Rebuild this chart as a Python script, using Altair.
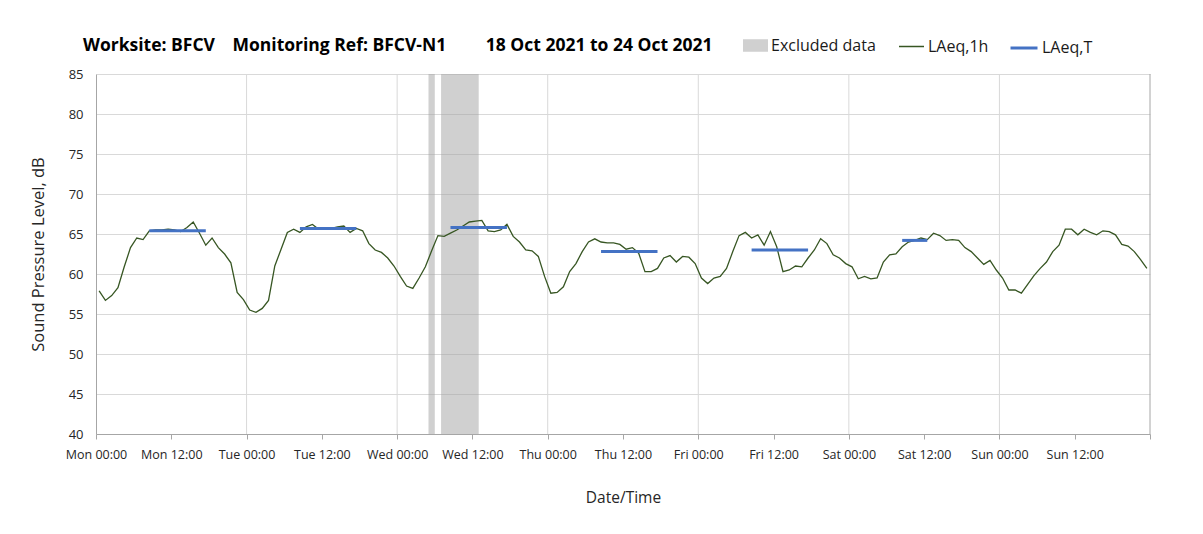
import altair as alt
import pandas as pd

# ---- data -------------------------------------------------------------
# hour position (hours since Mon 18 Oct 2021 00:00), one point per hour
hours = [i + 0.5 for i in range(168)]
laeq_1h = [
    57.9, 56.7, 57.3, 58.3, 60.9, 63.3, 64.5, 64.3, 65.4, 65.5, 65.5, 65.6,
    65.5, 65.3, 65.8, 66.5, 65.1, 63.6, 64.5, 63.3, 62.5, 61.4, 57.7, 56.8,
    55.5, 55.2, 55.7, 56.7, 61.0, 63.1, 65.2, 65.6, 65.2, 65.9, 66.2, 65.6,
    65.7, 65.7, 65.9, 66.0, 65.2, 65.7, 65.4, 63.8, 63.0, 62.7, 62.0, 61.0,
    59.7, 58.5, 58.2, 59.5, 60.9, 62.9, 64.8, 64.7, 65.1, 65.5, 66.0, 66.5,
    66.6, 66.7, 65.4, 65.3, 65.5, 66.2, 64.7, 64.0, 63.0, 62.9, 62.2, 59.7,
    57.6, 57.7, 58.4, 60.3, 61.3, 62.8, 64.0, 64.4, 64.0, 63.9, 63.9, 63.7,
    63.1, 63.3, 62.6, 60.3, 60.3, 60.7, 62.0, 62.3, 61.5, 62.2, 62.1, 61.3,
    59.5, 58.8, 59.5, 59.7, 60.7, 62.8, 64.8, 65.2, 64.5, 64.9, 63.6, 65.3,
    63.4, 60.3, 60.5, 61.0, 60.9, 62.0, 63.0, 64.4, 63.8, 62.4, 62.0, 61.3,
    60.9, 59.4, 59.7, 59.4, 59.5, 61.5, 62.4, 62.5, 63.4, 64.0, 64.2, 64.5,
    64.3, 65.1, 64.8, 64.2, 64.3, 64.2, 63.3, 62.8, 62.0, 61.2, 61.7, 60.5,
    59.5, 58.0, 58.0, 57.6, 58.7, 59.8, 60.7, 61.5, 62.8, 63.6, 65.6, 65.6,
    64.9, 65.6, 65.2, 64.9, 65.4, 65.3, 64.9, 63.7, 63.5, 62.8, 61.8, 60.7,
]

seg_day = ["Mon", "Tue", "Wed", "Thu", "Fri", "Sat"]
seg_start = [8.5, 32.5, 56.5, 80.5, 104.5, 128.5]
seg_end = [17.5, 41.5, 65.5, 89.5, 113.5, 132.5]
seg_level = [65.4, 65.7, 65.8, 62.8, 63.0, 64.2]

excl_start = [53, 55]
excl_end = [54, 61]

day_bounds = [24, 48, 72, 96, 120, 144]
end_bound = [168]

tick_values = [0, 12, 24, 36, 48, 60, 72, 84, 96, 108, 120, 132, 144, 156, 168]
tick_labels = ["Mon 00:00", "Mon 12:00", "Tue 00:00", "Tue 12:00", "Wed 00:00",
               "Wed 12:00", "Thu 00:00", "Thu 12:00", "Fri 00:00", "Fri 12:00",
               "Sat 00:00", "Sat 12:00", "Sun 00:00", "Sun 12:00", ""]
y_ticks = [40, 45, 50, 55, 60, 65, 70, 75, 80, 85]

title_text = ("Worksite: BFCV\u2003Monitoring Ref: BFCV-N1\u2003\u2003 "
              "18 Oct 2021 to 24 Oct 2021")

# ---- tables -------------------------------------------------------------
df_line = pd.DataFrame({"h": hours, "v": laeq_1h, "s": "LAeq,1h"})
df_seg = pd.DataFrame({"day": seg_day, "h": seg_start, "b": seg_end,
                       "v": seg_level, "s": "LAeq,T"})
df_ex = pd.DataFrame({"h": excl_start, "b": excl_end, "s": "Excluded data"})
df_grid = pd.DataFrame({"h": day_bounds})
df_end = pd.DataFrame({"h": end_bound})

FONT = "Open Sans"
xs = alt.Scale(domain=[0, 168], nice=False, zero=False)
ys = alt.Scale(domain=[40, 85], nice=False, zero=False)

label_expr = "[" + ",".join("'%s'" % t for t in tick_labels) + "][round(datum.value/12)]"

xaxis = alt.Axis(title="Date/Time", values=tick_values, labelExpr=label_expr,
                 grid=False, domainColor="#a6a6a6", tickColor="#a6a6a6",
                 tickSize=5, labelFont=FONT, labelFontSize=12.5,
                 labelColor="#262626", labelPadding=9, labelFlush=False,
                 titleFont=FONT, titleFontSize=15.5, titleFontWeight="normal",
                 titleColor="#262626", titlePadding=30)
yaxis = alt.Axis(title="Sound Pressure Level, dB", values=y_ticks, grid=True,
                 gridColor="#d9d9d9", domainColor="#a6a6a6", ticks=False,
                 labelFont=FONT, labelFontSize=13, labelColor="#262626",
                 labelPadding=13, titleFont=FONT, titleFontSize=16.5,
                 titleFontWeight="normal", titleColor="#262626",
                 titlePadding=22)

X = alt.X("h:Q", scale=xs, axis=xaxis, title="Date/Time")
Y = alt.Y("v:Q", scale=ys, axis=yaxis, title="Sound Pressure Level, dB")


def leg(x, sym, size, sw):
    return alt.Legend(title=None, orient="none", legendX=x, legendY=-41,
                      symbolType=sym, symbolSize=size, symbolStrokeWidth=sw,
                      labelFontSize=16, labelFont=FONT, labelColor="#1a1a1a",
                      labelOffset=3)


excl = alt.Chart(df_ex).mark_rect(opacity=0.5).encode(
    x=X,
    x2="b:Q",
    y=alt.datum(85, scale=ys, axis=yaxis, title="Sound Pressure Level, dB"),
    y2=alt.datum(40),
    color=alt.Color("s:N", scale=alt.Scale(domain=["Excluded data"], range=["#a1a1a1"]),
                    legend=leg(647, "M-1,-0.5H1V0.5H-1Z", 625, 0)),
)

grid = alt.Chart(df_grid).mark_rule(color="#d9d9d9", strokeWidth=1).encode(x=X)
endline = alt.Chart(df_end).mark_rule(color="#a6a6a6", strokeWidth=1).encode(x=X)

line = alt.Chart(df_line).mark_line(strokeWidth=1.3).encode(
    x=X,
    y=Y,
    color=alt.Color("s:N", scale=alt.Scale(domain=["LAeq,1h"], range=["#375623"]),
                    legend=leg(802, "stroke", 625, 1.5)),
)

seg = alt.Chart(df_seg).mark_rule(strokeWidth=3).encode(
    x=X,
    x2="b:Q",
    y=Y,
    color=alt.Color("s:N", scale=alt.Scale(domain=["LAeq,T"], range=["#4472c4"]),
                    legend=leg(913, "stroke", 729, 3)),
)

chart = alt.layer(excl, grid, endline, line, seg).resolve_scale(
    color="independent"
).properties(
    width=1054,
    height=360,
    autosize=alt.AutoSizeParams(type="none"),
    padding={"left": 88, "top": 66, "right": 45, "bottom": 92},
    title=alt.TitleParams(text=title_text, anchor="start", frame="group", font=FONT,
                          fontSize=17.5, fontWeight="bold", color="#000000", dx=-13,
                          offset=18, dy=39),
).configure_view(stroke=None)

chart.save("out.html", embed_options={"renderer": "svg", "actions": False})
